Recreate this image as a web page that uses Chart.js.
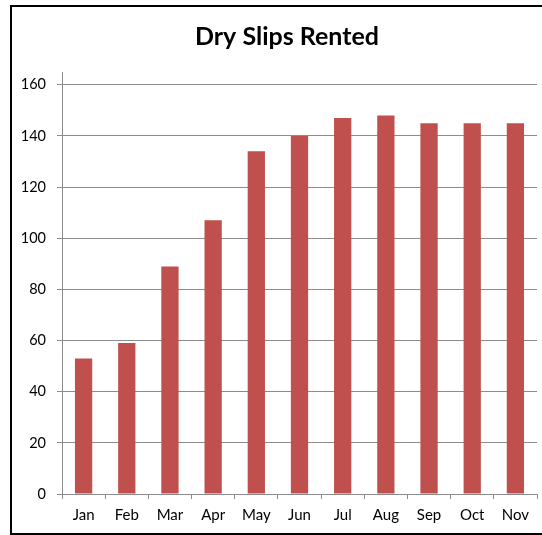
<!DOCTYPE html>
<html>

<head>
    <title>Dry Slips Rented</title>
    <style>
        html,
        body {
            margin: 0;
            background: #fff;
            overflow: hidden;
        }

        #clip {
            position: fixed;
            left: 0;
            top: 0;
            width: 542px;
            height: 535px;
            overflow: hidden;
        }

        #frame {
            position: absolute;
            left: 10px;
            top: 5px;
            width: 550px;
            height: 526px;
            border: 2px solid #000;
            background: #fff;
        }
    </style>
    <script src="https://cdn.jsdelivr.net/npm/chart.js"></script>
</head>

<body>
    <div id="clip">
        <div id="frame">
            <canvas id="myChart" width="550" height="526"></canvas>
        </div>
    </div>

    <script>
        // Months along the bottom
        const months = ['Jan', 'Feb', 'Mar', 'Apr', 'May', 'Jun', 'Jul', 'Aug', 'Sep', 'Oct', 'Nov'];

        // Slips rented each month
        const slipsRented = [53, 59, 89, 107, 134, 140, 147, 148, 145, 145, 145];

        // Y axis ticks
        const yTicks = [0, 20, 40, 60, 80, 100, 120, 140, 160];

        const gridGray = '#8c8c8c';
        const font = 'Lato, "Open Sans", sans-serif';

        const ctx = document.getElementById('myChart').getContext('2d');

        const myChart = new Chart(ctx, {
            type: 'bar',
            data: {
                labels: months,
                datasets: [{
                    label: 'Dry Slips Rented',
                    data: slipsRented,
                    backgroundColor: '#C0504D',
                    categoryPercentage: 1,
                    barPercentage: 0.4,
                }]
            },
            options: {
                responsive: false,
                animation: false,
                plugins: {
                    legend: { display: false },
                    tooltip: { enabled: false },
                    title: {
                        display: true,
                        text: 'Dry Slips Rented',
                        color: '#000',
                        font: { family: font, size: 25, weight: 'bold' },
                        padding: { top: 15, bottom: 20 }
                    }
                },
                scales: {
                    x: {
                        grid: {
                            display: true,
                            drawOnChartArea: false,
                            drawTicks: true,
                            tickLength: 5,
                            color: gridGray,
                        },
                        border: { color: gridGray },
                        ticks: {
                            color: '#000',
                            padding: 7,
                            font: { family: font, size: 15 }
                        },
                        afterFit: function (scale) {
                            scale.height = 39;
                        }
                    },
                    y: {
                        min: 0,
                        max: 165,
                        grid: {
                            color: gridGray,
                            tickLength: 5,
                        },
                        border: { color: gridGray },
                        ticks: {
                            color: '#000',
                            padding: 11,
                            font: { family: font, size: 14.5 }
                        },
                        // only keep the round ticks, the axis itself runs a bit higher
                        afterBuildTicks: function (scale) {
                            scale.ticks = yTicks.map(v => ({ value: v }));
                        },
                        afterFit: function (scale) {
                            scale.width = 50;
                        }
                    },
                    // empty strip on the right so the title stays centred on the whole frame
                    spacer: {
                        position: 'right',
                        grid: { display: false },
                        border: { display: false },
                        ticks: { display: false },
                        afterFit: function (scale) {
                            scale.width = 25;
                        }
                    }
                }
            }
        });
    </script>
</body>

</html>
